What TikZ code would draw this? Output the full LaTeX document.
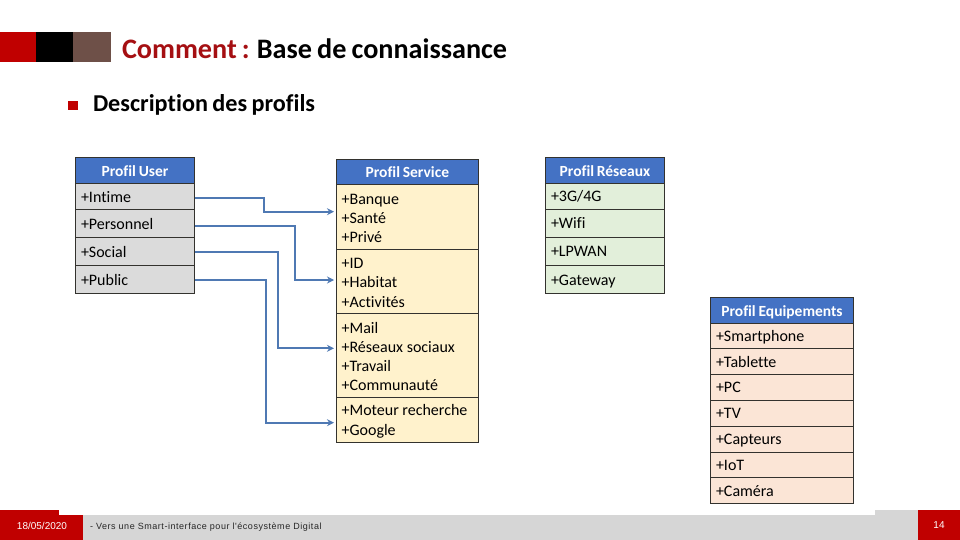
\documentclass[tikz,border=0pt]{standalone}
\usepackage{fontspec}
\setmainfont{Carlito}[Ligatures=NoCommon,WordSpace=0.8]
\newfontfamily\servfont{Carlito}[Ligatures=NoCommon]
\newfontfamily\footfont[LetterSpace=6]{Liberation Sans}
\newfontfamily\numfont{Liberation Sans}
\definecolor{hdrblue}{HTML}{4472C4}
\definecolor{arrowblue}{HTML}{4F79B3}
\definecolor{darkred}{HTML}{C00000}
\definecolor{titlered}{HTML}{A50F12}
\definecolor{brownsq}{HTML}{6E5048}
\definecolor{footgray}{HTML}{D6D6D6}
\definecolor{usergray}{HTML}{DBDBDB}
\definecolor{servyellow}{HTML}{FFF2CC}
\definecolor{netgreen}{HTML}{E2EFDA}
\definecolor{equippeach}{HTML}{FBE5D6}
\definecolor{rowline}{HTML}{33322E}
\usetikzlibrary{arrows.meta}
\tikzset{
  x=1pt,y=-1pt,
  rowbox/.style={draw=rowline,line width=0.9pt,outer sep=0pt,anchor=north west,inner xsep=5.5pt,inner ysep=0pt,align=flush left,font=\fontsize{16}{19.3}\selectfont,text=black},
  oneline/.style={rowbox,text height=12.5pt,text depth=1.5pt},
  hdrbox/.style={draw=rowline,line width=0.9pt,outer sep=0pt,anchor=north west,fill=hdrblue,inner sep=0pt,align=center,text=white,text height=13pt,text depth=1pt,font=\fontsize{15.5}{18}\selectfont\bfseries},
  u/.style={oneline,fill=usergray,text width=108pt,minimum width=119.4pt,text height=13.5pt},
  s/.style={rowbox,fill=servyellow,text width=131.5pt,minimum width=142.7pt,font=\fontsize{16}{19.3}\servfont,execute at begin node={\rule{0pt}{13.5pt}}},
  n/.style={oneline,fill=netgreen,text width=108pt,minimum width=119.4pt},
  e/.style={oneline,fill=equippeach,text width=132pt,minimum width=143.4pt},
  link/.style={draw=arrowblue,line width=2pt,-{Stealth[length=7pt,width=7pt]}},
  flat/.style={inner sep=0pt,outer sep=0pt,anchor=north west},
}
\begin{document}
\begin{tikzpicture}
\useasboundingbox (0,0) rectangle (960,540);
\fill[white] (0,0) rectangle (960,540);
% header squares
\fill[darkred] (0,32) rectangle (36,62);
\fill[black] (36,32) rectangle (73,62);
\fill[brownsq] (73,32) rectangle (111,62);
\node[flat,anchor=base west,font=\fontsize{28.2}{32}\selectfont\bfseries] (title) at (122,58.5) {\textcolor{titlered}{Comment :} Base de connaissance};
\fill[darkred] (68,101) rectangle (78,110.5);
\node[flat,anchor=base west,font=\fontsize{24.2}{28}\selectfont\bfseries] (desc) at (93,111.5) {Description des profils};
% footer
\fill[darkred] (0,510) rectangle (59,540);
\fill[darkred] (59,515) rectangle (83,540);
\fill[footgray] (83,515) rectangle (918,540);
\fill[footgray] (875,510) rectangle (918,515);
\fill[darkred] (918,510) rectangle (960,540);
\node[text=white,font=\fontsize{10}{11}\numfont,inner sep=0pt] (date) at (42,525.5) {18/05/2020};
\node[flat,anchor=base west,font=\fontsize{9}{11}\footfont,text=black!85] (foot) at (90,529) {- Vers une Smart-interface pour l'écosystème Digital};
\node[text=white,font=\fontsize{10}{11}\numfont,inner sep=0pt] (page) at (939,525.5) {14};
% Profil User
\node[hdrbox,minimum width=119.4pt,minimum height=25.8pt] (uh) at (75.3,157.5) {Profil User};
\node[u,minimum height=26pt] (u1) at (75.3,183.3) {+Intime};
\node[u,minimum height=27.8pt] (u2) at (75.3,209.3) {+Personnel};
\node[u,minimum height=28.2pt] (u3) at (75.3,237.1) {+Social};
\node[u,minimum height=28.4pt] (u4) at (75.3,265.3) {+Public};
% Profil Service
\node[hdrbox,minimum width=142.7pt,minimum height=25.3pt] (sh) at (336,159) {Profil Service};
\node[s,minimum height=64.7pt] (s1) at (336,184.3) {+Banque\\+Santé\\+Privé};
\node[s,minimum height=64.3pt] (s2) at (336,249) {+ID\\+Habitat\\+Activités};
\node[s,minimum height=84pt] (s3) at (336,313.3) {+Mail\\+Réseaux sociaux\\+Travail\\+Communauté};
\node[s,minimum height=45.4pt] (s4) at (336,397.3) {+Moteur recherche\\+Google};
% Profil Réseaux
\node[hdrbox,minimum width=119.4pt,minimum height=25.8pt] (nh) at (545.3,157.5) {Profil Réseaux};
\node[n,minimum height=26pt] (n1) at (545.3,183.3) {+3G/4G};
\node[n,minimum height=27.8pt] (n2) at (545.3,209.3) {+Wifi};
\node[n,minimum height=28.2pt] (n3) at (545.3,237.1) {+LPWAN};
\node[n,minimum height=28.4pt] (n4) at (545.3,265.3) {+Gateway};
% Profil Equipements
\node[hdrbox,minimum width=143.4pt,minimum height=26pt] (eh) at (710.3,297.3) {Profil Equipements};
\node[e,minimum height=25.6pt] (e1) at (710.3,323.3) {+Smartphone};
\node[e,minimum height=25.6pt] (e2) at (710.3,348.9) {+Tablette};
\node[e,minimum height=25.9pt] (e3) at (710.3,374.5) {+PC};
\node[e,minimum height=25.9pt] (e4) at (710.3,400.4) {+TV};
\node[e,minimum height=25.7pt] (e5) at (710.3,426.3) {+Capteurs};
\node[e,minimum height=25.7pt] (e6) at (710.3,452) {+IoT};
\node[e,minimum height=25.6pt] (e7) at (710.3,477.7) {+Caméra};
% connectors
\draw[link] (u1.east |- 0,197.5) -- (264,197.5) -- (264,211.7) -- ([xshift=-2pt]s1.west |- 0,211.7);
\draw[link] (u2.east |- 0,225.7) -- (295,225.7) -- (295,280) -- ([xshift=-2pt]s2.west |- 0,280);
\draw[link] (u3.east |- 0,252.3) -- (278.3,252.3) -- (278.3,348.3) -- ([xshift=-2pt]s3.west |- 0,348.3);
\draw[link] (u4.east |- 0,280) -- (265.7,280) -- (265.7,422.7) -- ([xshift=-2pt]s4.west |- 0,422.7);
\end{tikzpicture}
\end{document}
